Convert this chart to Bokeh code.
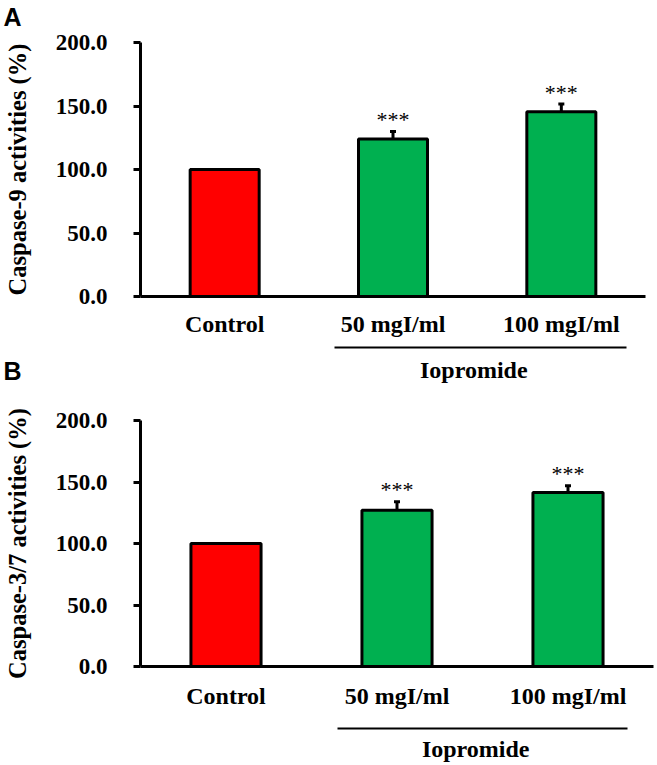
from bokeh.plotting import figure
from bokeh.models import (Range1d, LinearAxis, FixedTicker, PrintfTickFormatter, Whisker,
                          TeeHead, ColumnDataSource, Title)
from bokeh.core.properties import value
from bokeh.layouts import column
from bokeh.embed import file_html
from bokeh.resources import INLINE

# ---- data ----
categories = ["Control", "50 mgI/ml", "100 mgI/ml"]
casp9 = [100.0, 124.0, 145.5]
casp9_err = [0.0, 6.0, 6.0]
casp37 = [100.0, 127.0, 141.5]
casp37_err = [0.0, 7.0, 5.5]
sig = ["", "***", "***"]
y_ticks = [0, 50, 100, 150, 200]
group_label = "Iopromide"
bar_colors = ["#FF0000", "#00B050", "#00B050"]

SERIF = "Liberation Serif"
SANS = "Liberation Sans"

# category slot centres on a numeric axis (one unit per category)
xpos = [i + 0.5 for i in range(len(categories))]


def letter_title(txt, standoff):
    return Title(text=txt, align="left", vertical_align="top", offset=-137,
                 standoff=standoff, text_font=SANS, text_font_style="bold",
                 text_font_size="25px", text_color="black")


def make_panel(values, errs, ylabel, letter, letter_standoff, frame_w, top_border,
               right_border, frame_h, label_standoff, gap_px, bracket, group_pos,
               group_standoff):
    p = figure(x_range=Range1d(0, len(categories)), y_range=Range1d(0, 200),
               frame_width=frame_w, frame_height=frame_h, output_backend="svg",
               toolbar_location=None, x_axis_location=None,
               min_border_left=135, min_border_right=right_border,
               min_border_top=top_border, min_border_bottom=0)
    p.title = letter_title(letter, letter_standoff)
    p.outline_line_color = None
    p.grid.visible = False
    p.background_fill_color = None
    p.border_fill_color = None

    src = ColumnDataSource(dict(x=xpos, top=values, color=bar_colors))
    p.vbar(x="x", top="top", width=0.41, fill_color="color", line_color="black",
           line_width=3, source=src)

    xs = [c for c, e in zip(xpos, errs) if e > 0]
    tops = [v for v, e in zip(values, errs) if e > 0]
    ups = [v + e for v, e in zip(values, errs) if e > 0]
    marks = [s for s, e in zip(sig, errs) if e > 0]
    wsrc = ColumnDataSource(dict(x=xs, top=tops, upper=ups, sig=marks))
    p.add_layout(Whisker(source=wsrc, base="x", lower="top", upper="upper",
                         line_width=3, line_color="black",
                         upper_head=TeeHead(size=6, line_width=3, line_color="black"),
                         lower_head=None))
    p.text(x="x", y="upper", text="sig", source=wsrc, text_align="center",
           text_baseline="alphabetic", text_font=value(SERIF), text_font_size="22px",
           text_color="black", y_offset=-12)

    ya = p.yaxis[0]
    ya.ticker = FixedTicker(ticks=y_ticks)
    ya.formatter = PrintfTickFormatter(format="%.1f")
    ya.axis_line_width = 3
    ya.axis_line_color = "black"
    ya.major_tick_line_width = 3
    ya.major_tick_out = 7
    ya.major_tick_in = 0
    ya.minor_tick_line_color = None
    ya.major_label_standoff = 26
    ya.major_label_text_font = SERIF
    ya.major_label_text_font_style = "bold"
    ya.major_label_text_font_size = "23px"
    ya.major_label_text_color = "black"
    ya.axis_label = ylabel
    ya.axis_label_text_font = SERIF
    ya.axis_label_text_font_style = "bold"
    ya.axis_label_text_font_size = "24.5px"
    ya.axis_label_text_color = "black"
    ya.axis_label_standoff = 22

    ax1 = LinearAxis(ticker=FixedTicker(ticks=xpos),
                     major_label_overrides={x: c for x, c in zip(xpos, categories)},
                     axis_line_width=3, axis_line_color="black",
                     major_tick_line_color=None, major_tick_out=0, major_tick_in=0,
                     minor_tick_line_color=None,
                     major_label_standoff=label_standoff,
                     major_label_text_font=SERIF, major_label_text_font_style="bold",
                     major_label_text_font_size="24px", major_label_text_color="black",
                     axis_label=" ", axis_label_text_font_size=f"{gap_px}px",
                     axis_label_standoff=0)
    p.add_layout(ax1, "below")

    ax2 = LinearAxis(bounds=bracket, ticker=FixedTicker(ticks=[group_pos]),
                     major_label_overrides={group_pos: group_label},
                     axis_line_width=2, axis_line_color="black",
                     major_tick_line_color=None, major_tick_out=0, major_tick_in=0,
                     minor_tick_line_color=None,
                     major_label_standoff=group_standoff,
                     major_label_text_font=SERIF, major_label_text_font_style="bold",
                     major_label_text_font_size="24px", major_label_text_color="black")
    p.add_layout(ax2, "below")
    return p


pA = make_panel(casp9, casp9_err, "Caspase-9 activities (%)", "A", 20, frame_w=505,
                top_border=52, right_border=17, frame_h=254,
                label_standoff=14, gap_px=4, bracket=(1.15, 2.89), group_pos=1.98,
                group_standoff=9)
pA.margin = (-10, 0, 0, 0)

pB = make_panel(casp37, casp37_err, "Caspase-3/7 activities (%)", "B", 68, frame_w=513,
                top_border=100, right_border=9, frame_h=246,
                label_standoff=16, gap_px=12, bracket=(1.15, 2.85), group_pos=1.96,
                group_standoff=7)
pB.margin = (-65, 0, 0, 0)

layout = column(pA, pB, spacing=0)
open("out.html", "w").write(file_html(layout, INLINE))
